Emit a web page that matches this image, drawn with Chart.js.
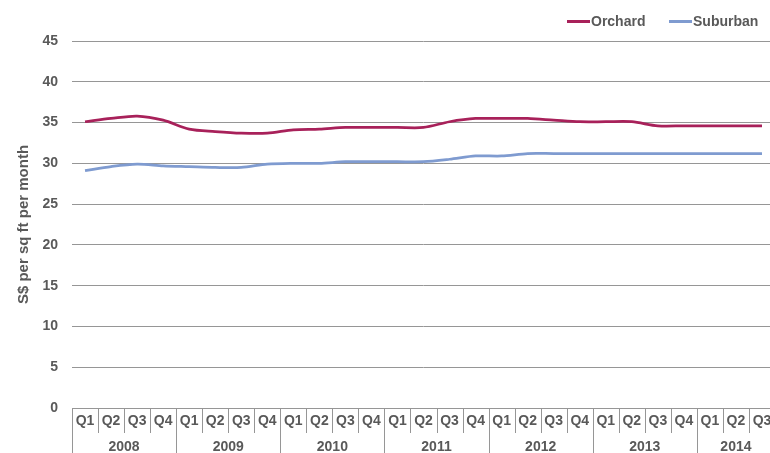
<!DOCTYPE html>
<html>
<head>
<meta charset="utf-8">
<script src="https://cdn.jsdelivr.net/npm/chart.js@4"></script>
<style>
  html, body { margin: 0; padding: 0; background: #fff; overflow: hidden; width: 770px; height: 453px; }
  canvas { display: block; }
</style>
</head>
<body>
<canvas id="c" width="776" height="453"></canvas>
<script>
const quarters = ['Q1','Q2','Q3','Q4','Q1','Q2','Q3','Q4','Q1','Q2','Q3','Q4','Q1','Q2','Q3','Q4','Q1','Q2','Q3','Q4','Q1','Q2','Q3','Q4','Q1','Q2','Q3'];
const years = ['2008','2009','2010','2011','2012','2013','2014'];
const orchard = [35.1,35.5,35.8,35.3,34.2,33.9,33.7,33.7,34.1,34.2,34.4,34.4,34.4,34.4,35.1,35.5,35.5,35.5,35.3,35.1,35.1,35.1,34.6,34.6,34.6,34.6,34.6];
const suburban = [29.1,29.6,29.9,29.7,29.6,29.5,29.5,29.9,30.0,30.0,30.2,30.2,30.2,30.2,30.5,30.9,30.9,31.2,31.2,31.2,31.2,31.2,31.2,31.2,31.2,31.2,31.2];
const yTicks = [0,5,10,15,20,25,30,35,40,45];

const TEXT = '#595959';
const GRID = '#969696';
const FONT = 'Arial, "Liberation Sans", Helvetica, sans-serif';

const axisLabelsPlugin = {
  id: 'axisLabels',
  afterDraw(chart) {
    const ctx = chart.ctx;
    const x = chart.scales.x;
    const area = chart.chartArea;
    const bottom = area.bottom;
    const n = quarters.length;
    const half = (x.getPixelForValue(1) - x.getPixelForValue(0)) / 2;
    ctx.save();
    ctx.strokeStyle = GRID;
    ctx.lineWidth = 1;
    for (let i = 0; i <= n; i++) {
      const px = Math.round(x.getPixelForValue(i) - half) + 0.5;
      const isYear = i % 4 === 0;
      ctx.beginPath();
      ctx.moveTo(px, bottom);
      ctx.lineTo(px, isYear ? bottom + 45 : bottom + 25);
      ctx.stroke();
    }
    ctx.fillStyle = TEXT;
    ctx.font = 'bold 14px ' + FONT;
    ctx.textAlign = 'center';
    ctx.textBaseline = 'middle';
    for (let i = 0; i < n; i++) {
      ctx.fillText(quarters[i], x.getPixelForValue(i), bottom + 13);
    }
    for (let j = 0; j < years.length; j++) {
      const first = j * 4;
      const last = Math.min(first + 3, n - 1);
      const cx = (x.getPixelForValue(first) + x.getPixelForValue(last)) / 2;
      ctx.fillText(years[j], cx, bottom + 39);
    }
    const items = [
      { label: 'Orchard', color: '#A8215A', x0: 567 },
      { label: 'Suburban', color: '#7F9BD0', x0: 669 }
    ];
    ctx.textAlign = 'left';
    items.forEach(it => {
      ctx.strokeStyle = it.color;
      ctx.lineWidth = 3;
      ctx.beginPath();
      ctx.moveTo(it.x0, 21.5);
      ctx.lineTo(it.x0 + 23, 21.5);
      ctx.stroke();
      ctx.fillStyle = TEXT;
      ctx.fillText(it.label, it.x0 + 24, 22);
    });
    ctx.restore();
  }
};

new Chart(document.getElementById('c'), {
  type: 'line',
  data: {
    labels: quarters.map((q, i) => q + ' ' + years[Math.floor(i / 4)]),
    datasets: [
      { label: 'Orchard', data: orchard, borderColor: '#A8215A', backgroundColor: '#A8215A', borderWidth: 2.75, pointRadius: 0, tension: 0.3, fill: false },
      { label: 'Suburban', data: suburban, borderColor: '#7F9BD0', backgroundColor: '#7F9BD0', borderWidth: 2.75, pointRadius: 0, tension: 0.3, fill: false }
    ]
  },
  options: {
    responsive: false,
    animation: false,
    layout: { padding: { top: 41, right: 1, bottom: 0, left: 0 } },
    plugins: { legend: { display: false }, tooltip: { enabled: false } },
    scales: {
      x: {
        type: 'category',
        offset: true,
        grid: { display: false },
        border: { display: true, color: GRID, width: 1 },
        ticks: { display: false },
        afterFit(scale) { scale.height = 45; }
      },
      y: {
        min: 0,
        max: 45,
        afterBuildTicks(scale) { scale.ticks = yTicks.map(v => ({ value: v })); },
        grid: { color: GRID, drawTicks: false, lineWidth: 1 },
        border: { display: false },
        ticks: { color: TEXT, font: { family: FONT, size: 14, weight: 'bold' }, padding: 14 },
        title: { display: true, text: 'S$ per sq ft per month', color: TEXT, font: { family: FONT, size: 15, weight: 'bold' }, padding: { top: 15, bottom: 0 } },
        afterFit(scale) { scale.width = 72; }
      }
    }
  },
  plugins: [axisLabelsPlugin]
});
</script>
</body>
</html>
